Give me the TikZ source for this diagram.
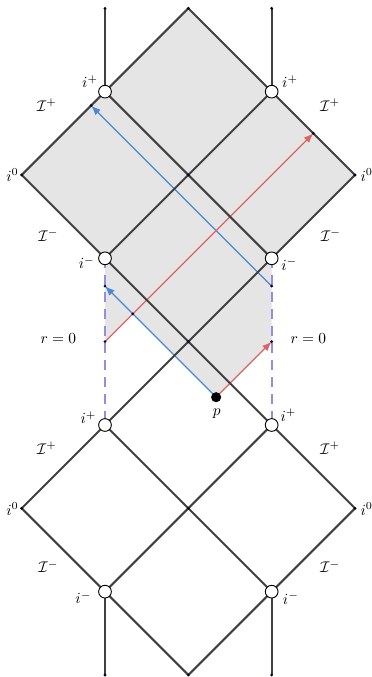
\documentclass[tikz,border=0pt]{standalone}
\usetikzlibrary{arrows.meta}
\definecolor{lineblack}{HTML}{404040}
\definecolor{regiongray}{HTML}{E5E5E5}
\definecolor{bluec}{HTML}{4A88D4}
\definecolor{redc}{HTML}{DD6464}
\definecolor{purplec}{HTML}{968CE1}
\tikzset{
  bline/.style={draw=lineblack,line width=1.3pt},
  ray/.style={line width=0.8pt,-{Latex[length=2.2mm,width=1.7mm]}},
  rzero/.style={draw=purplec,line width=1.2pt,dash pattern=on 6.5pt off 4.5pt},
  hole/.style={circle,draw=black,fill=white,line width=0.6pt,minimum size=2.9mm,inner sep=0pt},
  ptdot/.style={circle,fill=black,minimum size=2.3mm,inner sep=0pt},
  tiny/.style={circle,fill=black!85!blue,minimum size=0.7mm,inner sep=0pt},
  lbl/.style={inner sep=0pt}
}
\begin{document}
\begin{tikzpicture}[x=1.9cm,y=1.9cm]
\useasboundingbox (-0.260,-0.024) rectangle (4.192,8.1);
% points
\coordinate (T) at (2,8); \coordinate (LT) at (1,8); \coordinate (RT) at (3,8);
\coordinate (ip1) at (1,7); \coordinate (ip2) at (3,7);
\coordinate (i01) at (0,6); \coordinate (M1) at (2,6); \coordinate (i02) at (4,6);
\coordinate (im1) at (1,5); \coordinate (im2) at (3,5);
\coordinate (M2) at (2,4);
\coordinate (ip3) at (1,3); \coordinate (ip4) at (3,3);
\coordinate (i03) at (0,2); \coordinate (M3) at (2,2); \coordinate (i04) at (4,2);
\coordinate (im3) at (1,1); \coordinate (im4) at (3,1);
\coordinate (B) at (2,0); \coordinate (LB) at (1,0); \coordinate (RB) at (3,0);
\coordinate (P) at (7/3,10/3);
\coordinate (bl1) at (1,14/3); \coordinate (bl2) at (3,14/3); \coordinate (blE) at (5/6,41/6);
\coordinate (rd1) at (3,4); \coordinate (rd2) at (1,4); \coordinate (rdE) at (3.5,6.5);
\coordinate (X) at (4/3,13/3);
% shaded region
\fill[regiongray] (T) -- (i01) -- (im1) -- (rd2) -- (X) -- (P) -- (rd1) -- (im2) -- (i02) -- cycle;
% r=0 boundaries
\draw[rzero] (im1) -- (ip3);
\draw[rzero] (im2) -- (ip4);
% light rays
\draw[ray,bluec] (P) -- (bl1);
\draw[ray,bluec] (bl2) -- (blE);
\draw[ray,redc] (P) -- (rd1);
\draw[ray,redc] (rd2) -- (rdE);
% black lines
\draw[bline] (LT) -- (ip1);
\draw[bline] (RT) -- (ip2);
\draw[bline] (im3) -- (LB);
\draw[bline] (im4) -- (RB);
\draw[bline] (T) -- (i01) -- (i04) -- (B);
\draw[bline] (T) -- (i02) -- (i03) -- (B);
\draw[bline] (ip1) -- (im2);
\draw[bline] (ip2) -- (im1);
\draw[bline] (ip3) -- (im4);
\draw[bline] (ip4) -- (im3);
% small dots
\foreach \q in {T,LT,RT,i01,M1,i02,M2,i03,M3,i04,B,LB,RB,bl1,bl2,blE,rd1,rd2,rdE,X}
  \node[tiny] at (\q) {};
% holes
\foreach \q in {ip1,ip2,im1,im2,ip3,ip4,im3,im4}
  \node[hole] at (\q) {};
\node[ptdot] (pdot) at (P) {};
% labels
\node[lbl] (l1) at (0.82,7.12) {$i^{+}$};
\node[lbl] (l2) at (3.22,7.12) {$i^{+}$};
\node[lbl] (l3) at (0.30,6.84) {$\mathcal{I}^{+}$};
\node[lbl] (l4) at (3.70,6.84) {$\mathcal{I}^{+}$};
\node[lbl] (l5) at (-0.11,6.0) {$i^{0}$};
\node[lbl] (l6) at (4.14,6.0) {$i^{0}$};
\node[lbl] (l7) at (0.32,5.28) {$\mathcal{I}^{-}$};
\node[lbl] (l8) at (3.71,5.28) {$\mathcal{I}^{-}$};
\node[lbl] (l9) at (0.78,4.95) {$i^{-}$};
\node[lbl] (l10) at (3.21,4.93) {$i^{-}$};
\node[lbl] (l11) at (0.44,4.04) {$r=0$};
\node[lbl] (l12) at (3.44,4.04) {$r=0$};
\node[lbl] (l13) at (2.34,3.14) {$p$};
\node[lbl] (l14) at (0.80,3.09) {$i^{+}$};
\node[lbl] (l15) at (3.20,3.12) {$i^{+}$};
\node[lbl] (l16) at (0.30,2.72) {$\mathcal{I}^{+}$};
\node[lbl] (l17) at (3.70,2.72) {$\mathcal{I}^{+}$};
\node[lbl] (l18) at (-0.11,1.99) {$i^{0}$};
\node[lbl] (l19) at (4.14,1.99) {$i^{0}$};
\node[lbl] (l20) at (0.32,1.30) {$\mathcal{I}^{-}$};
\node[lbl] (l21) at (3.70,1.30) {$\mathcal{I}^{-}$};
\node[lbl] (l22) at (0.74,0.93) {$i^{-}$};
\node[lbl] (l23) at (3.23,0.92) {$i^{-}$};
\end{tikzpicture}
\end{document}
